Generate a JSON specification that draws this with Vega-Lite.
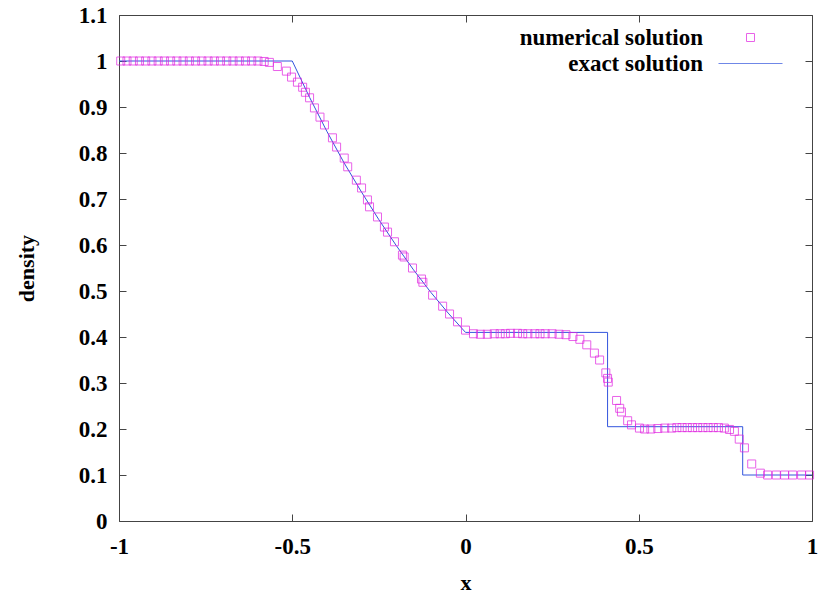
{
  "$schema": "https://vega.github.io/schema/vega-lite/v6.json",
  "width": 693,
  "height": 506,
  "autosize": {"type": "none"},
  "padding": {"left": 119, "top": 15, "right": 6, "bottom": 74},
  "background": "white",
  "datasets": {
    "exact": [
      {"i": 0, "x": -1, "y": 1, "s": "exact solution"},
      {"i": 1, "x": -0.5, "y": 1, "s": "exact solution"},
      {"i": 2, "x": -0.45, "y": 0.921, "s": "exact solution"},
      {"i": 3, "x": -0.4, "y": 0.847, "s": "exact solution"},
      {"i": 4, "x": -0.35, "y": 0.778, "s": "exact solution"},
      {"i": 5, "x": -0.3, "y": 0.715, "s": "exact solution"},
      {"i": 6, "x": -0.25, "y": 0.655, "s": "exact solution"},
      {"i": 7, "x": -0.2, "y": 0.599, "s": "exact solution"},
      {"i": 8, "x": -0.15, "y": 0.546, "s": "exact solution"},
      {"i": 9, "x": -0.1, "y": 0.497, "s": "exact solution"},
      {"i": 10, "x": -0.05, "y": 0.452, "s": "exact solution"},
      {"i": 11, "x": 0, "y": 0.41, "s": "exact solution"},
      {"i": 12, "x": 0.41, "y": 0.41, "s": "exact solution"},
      {"i": 13, "x": 0.41, "y": 0.205, "s": "exact solution"},
      {"i": 14, "x": 0.8, "y": 0.205, "s": "exact solution"},
      {"i": 15, "x": 0.8, "y": 0.1, "s": "exact solution"},
      {"i": 16, "x": 1, "y": 0.1, "s": "exact solution"}
    ],
    "numerical": [
      {"x": -0.995, "y": 1, "s": "numerical solution"},
      {"x": -0.977, "y": 1, "s": "numerical solution"},
      {"x": -0.959, "y": 1, "s": "numerical solution"},
      {"x": -0.941, "y": 1, "s": "numerical solution"},
      {"x": -0.923, "y": 1, "s": "numerical solution"},
      {"x": -0.905, "y": 1, "s": "numerical solution"},
      {"x": -0.887, "y": 1, "s": "numerical solution"},
      {"x": -0.869, "y": 1, "s": "numerical solution"},
      {"x": -0.851, "y": 1, "s": "numerical solution"},
      {"x": -0.833, "y": 1, "s": "numerical solution"},
      {"x": -0.815, "y": 1, "s": "numerical solution"},
      {"x": -0.797, "y": 1, "s": "numerical solution"},
      {"x": -0.779, "y": 1, "s": "numerical solution"},
      {"x": -0.761, "y": 1, "s": "numerical solution"},
      {"x": -0.743, "y": 1, "s": "numerical solution"},
      {"x": -0.725, "y": 1, "s": "numerical solution"},
      {"x": -0.707, "y": 1, "s": "numerical solution"},
      {"x": -0.689, "y": 1, "s": "numerical solution"},
      {"x": -0.671, "y": 1, "s": "numerical solution"},
      {"x": -0.653, "y": 1, "s": "numerical solution"},
      {"x": -0.635, "y": 1, "s": "numerical solution"},
      {"x": -0.617, "y": 1, "s": "numerical solution"},
      {"x": -0.599, "y": 1, "s": "numerical solution"},
      {"x": -0.581, "y": 0.999, "s": "numerical solution"},
      {"x": -0.566, "y": 0.997, "s": "numerical solution"},
      {"x": -0.543, "y": 0.988, "s": "numerical solution"},
      {"x": -0.517, "y": 0.978, "s": "numerical solution"},
      {"x": -0.502, "y": 0.965, "s": "numerical solution"},
      {"x": -0.485, "y": 0.954, "s": "numerical solution"},
      {"x": -0.47, "y": 0.943, "s": "numerical solution"},
      {"x": -0.462, "y": 0.932, "s": "numerical solution"},
      {"x": -0.45, "y": 0.92, "s": "numerical solution"},
      {"x": -0.436, "y": 0.898, "s": "numerical solution"},
      {"x": -0.42, "y": 0.878, "s": "numerical solution"},
      {"x": -0.407, "y": 0.861, "s": "numerical solution"},
      {"x": -0.384, "y": 0.833, "s": "numerical solution"},
      {"x": -0.372, "y": 0.813, "s": "numerical solution"},
      {"x": -0.35, "y": 0.789, "s": "numerical solution"},
      {"x": -0.34, "y": 0.77, "s": "numerical solution"},
      {"x": -0.315, "y": 0.741, "s": "numerical solution"},
      {"x": -0.3, "y": 0.724, "s": "numerical solution"},
      {"x": -0.283, "y": 0.698, "s": "numerical solution"},
      {"x": -0.277, "y": 0.683, "s": "numerical solution"},
      {"x": -0.254, "y": 0.661, "s": "numerical solution"},
      {"x": -0.234, "y": 0.639, "s": "numerical solution"},
      {"x": -0.225, "y": 0.628, "s": "numerical solution"},
      {"x": -0.205, "y": 0.607, "s": "numerical solution"},
      {"x": -0.182, "y": 0.578, "s": "numerical solution"},
      {"x": -0.177, "y": 0.574, "s": "numerical solution"},
      {"x": -0.153, "y": 0.55, "s": "numerical solution"},
      {"x": -0.127, "y": 0.526, "s": "numerical solution"},
      {"x": -0.123, "y": 0.519, "s": "numerical solution"},
      {"x": -0.095, "y": 0.491, "s": "numerical solution"},
      {"x": -0.066, "y": 0.467, "s": "numerical solution"},
      {"x": -0.046, "y": 0.45, "s": "numerical solution"},
      {"x": -0.023, "y": 0.433, "s": "numerical solution"},
      {"x": 0.0, "y": 0.415, "s": "numerical solution"},
      {"x": 0.023, "y": 0.407, "s": "numerical solution"},
      {"x": 0.043, "y": 0.406, "s": "numerical solution"},
      {"x": 0.063, "y": 0.406, "s": "numerical solution"},
      {"x": 0.083, "y": 0.407, "s": "numerical solution"},
      {"x": 0.1, "y": 0.407, "s": "numerical solution"},
      {"x": 0.115, "y": 0.407, "s": "numerical solution"},
      {"x": 0.13, "y": 0.408, "s": "numerical solution"},
      {"x": 0.15, "y": 0.408, "s": "numerical solution"},
      {"x": 0.165, "y": 0.407, "s": "numerical solution"},
      {"x": 0.18, "y": 0.407, "s": "numerical solution"},
      {"x": 0.2, "y": 0.407, "s": "numerical solution"},
      {"x": 0.215, "y": 0.407, "s": "numerical solution"},
      {"x": 0.23, "y": 0.407, "s": "numerical solution"},
      {"x": 0.25, "y": 0.407, "s": "numerical solution"},
      {"x": 0.27, "y": 0.406, "s": "numerical solution"},
      {"x": 0.29, "y": 0.405, "s": "numerical solution"},
      {"x": 0.31, "y": 0.401, "s": "numerical solution"},
      {"x": 0.33, "y": 0.395, "s": "numerical solution"},
      {"x": 0.35, "y": 0.383, "s": "numerical solution"},
      {"x": 0.372, "y": 0.365, "s": "numerical solution"},
      {"x": 0.387, "y": 0.35, "s": "numerical solution"},
      {"x": 0.405, "y": 0.322, "s": "numerical solution"},
      {"x": 0.41, "y": 0.31, "s": "numerical solution"},
      {"x": 0.412, "y": 0.302, "s": "numerical solution"},
      {"x": 0.436, "y": 0.262, "s": "numerical solution"},
      {"x": 0.445, "y": 0.245, "s": "numerical solution"},
      {"x": 0.45, "y": 0.237, "s": "numerical solution"},
      {"x": 0.468, "y": 0.218, "s": "numerical solution"},
      {"x": 0.479, "y": 0.209, "s": "numerical solution"},
      {"x": 0.502, "y": 0.202, "s": "numerical solution"},
      {"x": 0.517, "y": 0.2, "s": "numerical solution"},
      {"x": 0.535, "y": 0.2, "s": "numerical solution"},
      {"x": 0.555, "y": 0.201, "s": "numerical solution"},
      {"x": 0.575, "y": 0.202, "s": "numerical solution"},
      {"x": 0.595, "y": 0.202, "s": "numerical solution"},
      {"x": 0.61, "y": 0.203, "s": "numerical solution"},
      {"x": 0.625, "y": 0.203, "s": "numerical solution"},
      {"x": 0.64, "y": 0.203, "s": "numerical solution"},
      {"x": 0.655, "y": 0.203, "s": "numerical solution"},
      {"x": 0.67, "y": 0.203, "s": "numerical solution"},
      {"x": 0.685, "y": 0.203, "s": "numerical solution"},
      {"x": 0.7, "y": 0.203, "s": "numerical solution"},
      {"x": 0.715, "y": 0.203, "s": "numerical solution"},
      {"x": 0.73, "y": 0.203, "s": "numerical solution"},
      {"x": 0.747, "y": 0.202, "s": "numerical solution"},
      {"x": 0.762, "y": 0.199, "s": "numerical solution"},
      {"x": 0.776, "y": 0.195, "s": "numerical solution"},
      {"x": 0.79, "y": 0.178, "s": "numerical solution"},
      {"x": 0.805, "y": 0.159, "s": "numerical solution"},
      {"x": 0.826, "y": 0.124, "s": "numerical solution"},
      {"x": 0.851, "y": 0.104, "s": "numerical solution"},
      {"x": 0.872, "y": 0.1, "s": "numerical solution"},
      {"x": 0.897, "y": 0.1, "s": "numerical solution"},
      {"x": 0.921, "y": 0.1, "s": "numerical solution"},
      {"x": 0.944, "y": 0.1, "s": "numerical solution"},
      {"x": 0.97, "y": 0.1, "s": "numerical solution"},
      {"x": 0.993, "y": 0.1, "s": "numerical solution"}
    ]
  },
  "layer": [
    {
      "data": {"name": "exact"},
      "mark": {"type": "line", "strokeWidth": 1},
      "encoding": {
        "x": {
          "field": "x", "type": "quantitative",
          "scale": {"domain": [-1, 1], "nice": false, "zero": false},
          "axis": {"orient": "bottom", "title": "x", "values": [-1, -0.5, 0, 0.5, 1], "labelExpr": "'' + datum.value", "labelPadding": 21, "titlePadding": 14}
        },
        "y": {
          "field": "y", "type": "quantitative",
          "scale": {"domain": [0, 1.1], "nice": false, "zero": false},
          "axis": {"orient": "left", "title": "density", "values": [0, 0.1, 0.2, 0.3, 0.4, 0.5, 0.6, 0.7, 0.8, 0.9, 1, 1.1], "labelExpr": "'' + datum.value", "labelPadding": 19, "titlePadding": 40}
        },
        "order": {"field": "i", "type": "quantitative"},
        "color": {
          "field": "s", "type": "nominal",
          "scale": {"domain": ["numerical solution", "exact solution"], "range": ["#e020e0", "#3355dd"]}
        }
      }
    },
    {
      "data": {"name": "numerical"},
      "mark": {"type": "point", "filled": false, "size": 64, "strokeWidth": 1},
      "encoding": {
        "x": {
          "field": "x", "type": "quantitative",
          "scale": {"domain": [-1, 1], "nice": false, "zero": false},
          "axis": {"orient": "top", "title": null, "labels": false, "values": [-1, -0.5, 0, 0.5, 1]}
        },
        "y": {
          "field": "y", "type": "quantitative",
          "scale": {"domain": [0, 1.1], "nice": false, "zero": false},
          "axis": {"orient": "right", "title": null, "labels": false, "values": [0, 0.1, 0.2, 0.3, 0.4, 0.5, 0.6, 0.7, 0.8, 0.9, 1, 1.1]}
        },
        "color": {
          "field": "s", "type": "nominal",
          "scale": {"domain": ["numerical solution", "exact solution"], "range": ["#e020e0", "#3355dd"]}
        },
        "shape": {
          "field": "s", "type": "nominal",
          "scale": {"domain": ["numerical solution", "exact solution"], "range": ["square", "M-8,0L8,0"]}
        }
      }
    }
  ],
  "resolve": {"axis": {"x": "independent", "y": "independent"}},
  "config": {
    "view": {"stroke": "#444", "strokeWidth": 1},
    "legend": {
      "title": null, "orient": "none", "legendX": 620, "legendY": 11,
      "labelAlign": "right", "labelOffset": -59,
      "labelFont": "Liberation Serif", "labelFontSize": 23, "labelFontWeight": "bold",
      "labelColor": "#000", "symbolStrokeWidth": 1, "symbolSize": 64, "rowPadding": 2,
      "labelLimit": 400, "symbolType": "square"
    },
    "axis": {
      "domain": false, "grid": false,
      "tickColor": "#444", "tickSize": -7, "tickWidth": 1,
      "labelFont": "Liberation Serif", "labelFontSize": 23, "labelFontWeight": "bold", "labelColor": "#000",
      "labelFlush": false, "labelOverlap": false,
      "titleFont": "Liberation Serif", "titleFontSize": 22, "titleFontWeight": "bold", "titleColor": "#000"
    }
  }
}
